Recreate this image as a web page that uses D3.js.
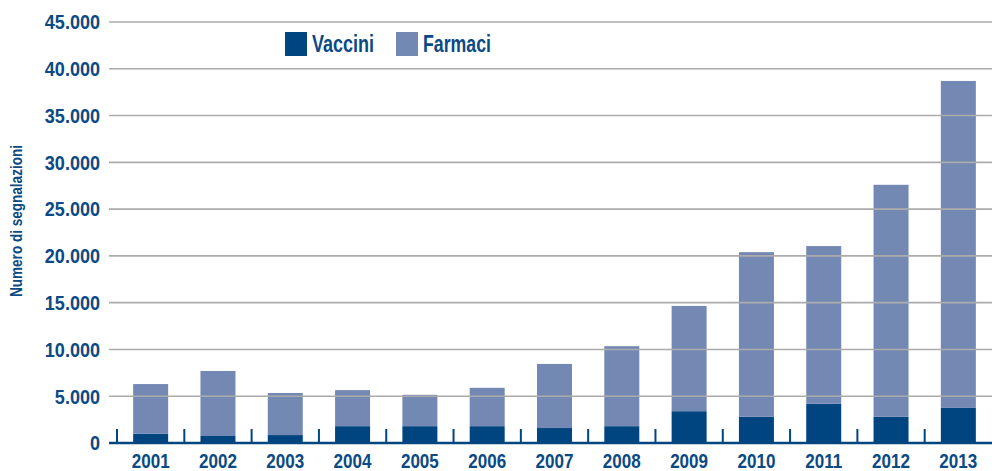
<!DOCTYPE html>
<html>
<head>
<meta charset="utf-8">
<script src="https://cdn.jsdelivr.net/npm/d3@7"></script>
<style>
    body { margin: 0; background: #fff; }
    svg text { font-family: "Liberation Sans", Arial, sans-serif; font-weight: bold; fill: #0b4a84; }
</style>
</head>
<body>
<div id="chart"></div>
<script>
const years = ['2001', '2002', '2003', '2004', '2005', '2006', '2007', '2008', '2009', '2010', '2011', '2012', '2013'];
const vaccini = [1000, 750, 850, 1800, 1800, 1800, 1600, 1800, 3400, 2800, 4200, 2800, 3750];
const farmaci = [5300, 6950, 4500, 3850, 3350, 4100, 6850, 8550, 11250, 17600, 16850, 24800, 34950];
const yTicks = [0, 5000, 10000, 15000, 20000, 25000, 30000, 35000, 40000, 45000];
const seriesNames = ['Vaccini', 'Farmaci'];

const width = 992, height = 471;
const darkBlue = '#004580';
const lightBlue = '#7388b3';
const gridColor = '#ababab';

// squeeze a bold sans into a condensed look
function condense(sel, k) {
    sel.each(function () {
        const w = this.getComputedTextLength();
        d3.select(this)
            .attr('textLength', w * k)
            .attr('lengthAdjust', 'spacingAndGlyphs');
    });
}

const svg = d3.select('#chart').append('svg')
    .attr('width', width)
    .attr('height', height);

const xScale = d3.scaleBand()
    .domain(years)
    .range([117, 992])
    .paddingInner(0.48)
    .paddingOuter(0.24);

const yScale = d3.scaleLinear()
    .domain([0, 45000])
    .range([443, 22]);

const color = d3.scaleOrdinal().domain(seriesNames).range([darkBlue, lightBlue]);

const table = years.map((y, i) => ({ year: y, Vaccini: vaccini[i], Farmaci: farmaci[i] }));
const stacked = d3.stack().keys(seriesNames)(table);

svg.selectAll('.layer')
    .data(stacked)
    .enter()
    .append('g')
    .attr('fill', d => color(d.key))
    .selectAll('rect')
    .data(d => d)
    .enter()
    .append('rect')
    .attr('x', d => xScale(d.data.year))
    .attr('y', d => yScale(d[1]))
    .attr('width', xScale.bandwidth())
    .attr('height', d => yScale(d[0]) - yScale(d[1]));

// gridlines sit on top of the bars
svg.selectAll('.grid')
    .data(yTicks.filter(t => t > 0))
    .enter()
    .append('line')
    .attr('x1', 109)
    .attr('x2', width)
    .attr('y1', d => yScale(d))
    .attr('y2', d => yScale(d))
    .attr('stroke', gridColor)
    .attr('stroke-width', 1.6);

const fmt = d3.formatLocale({ decimal: ',', thousands: '.', grouping: [3], currency: ['', '€'] }).format(',d');

svg.selectAll('.ylab')
    .data(yTicks)
    .enter()
    .append('text')
    .attr('x', 100)
    .attr('y', d => yScale(d))
    .attr('dy', '0.36em')
    .attr('text-anchor', 'end')
    .style('font-size', '20.5px')
    .text(d => fmt(d))
    .call(condense, 0.88);

// baseline with boundary ticks
svg.append('line')
    .attr('x1', 109)
    .attr('x2', width)
    .attr('y1', yScale(0))
    .attr('y2', yScale(0))
    .attr('stroke', darkBlue)
    .attr('stroke-width', 2.6);

const step = xScale.step();
svg.selectAll('.xtick')
    .data(years)
    .enter()
    .append('line')
    .attr('x1', (d, i) => xScale.range()[0] + i * step)
    .attr('x2', (d, i) => xScale.range()[0] + i * step)
    .attr('y1', yScale(0))
    .attr('y2', yScale(0) - 14)
    .attr('stroke', darkBlue)
    .attr('stroke-width', 2);

svg.selectAll('.xlab')
    .data(years)
    .enter()
    .append('text')
    .attr('x', d => xScale(d) + xScale.bandwidth() / 2)
    .attr('y', 468)
    .attr('text-anchor', 'middle')
    .style('font-size', '19.4px')
    .text(d => d)
    .call(condense, 0.88);

svg.append('text')
    .attr('transform', 'rotate(-90)')
    .attr('x', -221)
    .attr('y', 22)
    .attr('text-anchor', 'middle')
    .style('font-size', '16px')
    .attr('textLength', 152)
    .attr('lengthAdjust', 'spacingAndGlyphs')
    .text('Numero di segnalazioni');

// legend
const legendX = [285, 396];
const legendW = [62, 68];
const legend = svg.selectAll('.legend')
    .data(seriesNames)
    .enter()
    .append('g')
    .attr('transform', (d, i) => `translate(${legendX[i]},32)`);

legend.append('rect')
    .attr('width', 22)
    .attr('height', 24)
    .attr('fill', d => color(d));

legend.append('text')
    .attr('x', 27)
    .attr('y', 20)
    .style('font-size', '23px')
    .attr('textLength', (d, i) => legendW[i])
    .attr('lengthAdjust', 'spacingAndGlyphs')
    .text(d => d);
</script>
</body>
</html>
